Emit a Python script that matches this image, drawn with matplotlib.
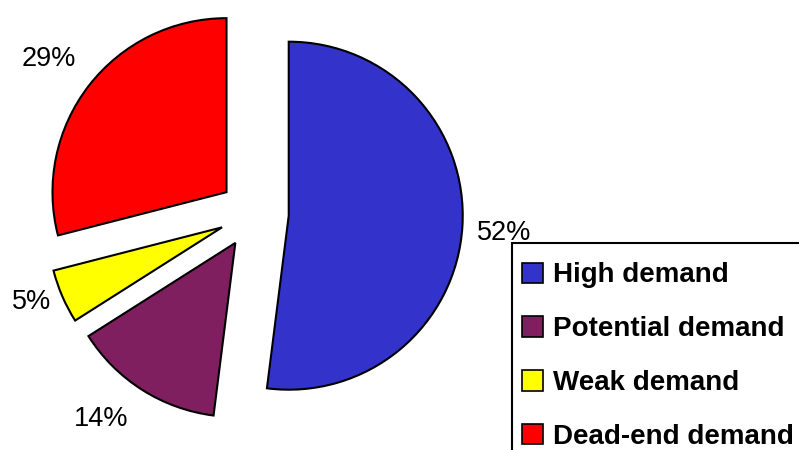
import matplotlib
matplotlib.use("Agg")
import matplotlib.pyplot as plt
from matplotlib.patches import Patch, Rectangle

plt.rcParams['font.family'] = ['Liberation Sans', 'DejaVu Sans']

# data
categories = ["High demand", "Potential demand", "Weak demand", "Dead-end demand"]
shares = [52, 14, 5, 29]
colors = ["#3333CC", "#7F1F5F", "#FFFF00", "#FF0000"]
explode = [0.2, 0.2, 0.2, 0.2]

# label spots (pie radius units, relative to pie centre)
label_pos = [(1.44, -0.11), (-0.88, -1.18), (-1.28, -0.51), (-1.18, 0.89)]

W, H = 799, 450
cx, cy, R = 254, 213.5, 174   # pie centre / radius in pixels

fig = plt.figure(figsize=(W / 100, H / 100), dpi=100)
ax = fig.add_axes([0, 0, 1, 1])

wedges, texts, autotexts = ax.pie(
    shares, colors=colors, explode=explode, startangle=90, counterclock=False,
    radius=1, autopct='%1.0f%%', pctdistance=1.25,
    wedgeprops=dict(edgecolor='black', linewidth=1.5),
    textprops=dict(fontsize=19.5, color='black'))

for t, (x, y) in zip(autotexts, label_pos):
    t.set_position((x, y))
    t.set_ha('center')
    t.set_va('center')

ax.set_xlim(-cx / R, (W - cx) / R)
ax.set_ylim(-(H - cy) / R, cy / R)
ax.set_aspect('equal')
ax.axis('off')

# legend box runs off the right and bottom edges
box = Rectangle((512 / W, -0.2), 0.5, 1.2 - 243 / H, transform=fig.transFigure,
                facecolor='white', edgecolor='black', linewidth=1.5, clip_on=False)
fig.add_artist(box)

handles = [Patch(facecolor=c, edgecolor='black', linewidth=1.2) for c in colors]
leg = fig.legend(handles, categories, loc='upper left',
                 bbox_to_anchor=(522 / W, 1 - 262.5 / H), borderaxespad=0,
                 prop=dict(family='Liberation Sans', weight='bold', size=20),
                 frameon=False, handlelength=0.75, handleheight=0.75,
                 handletextpad=0.38, borderpad=0, labelspacing=1.0)

fig.savefig("out.png", dpi=100)
